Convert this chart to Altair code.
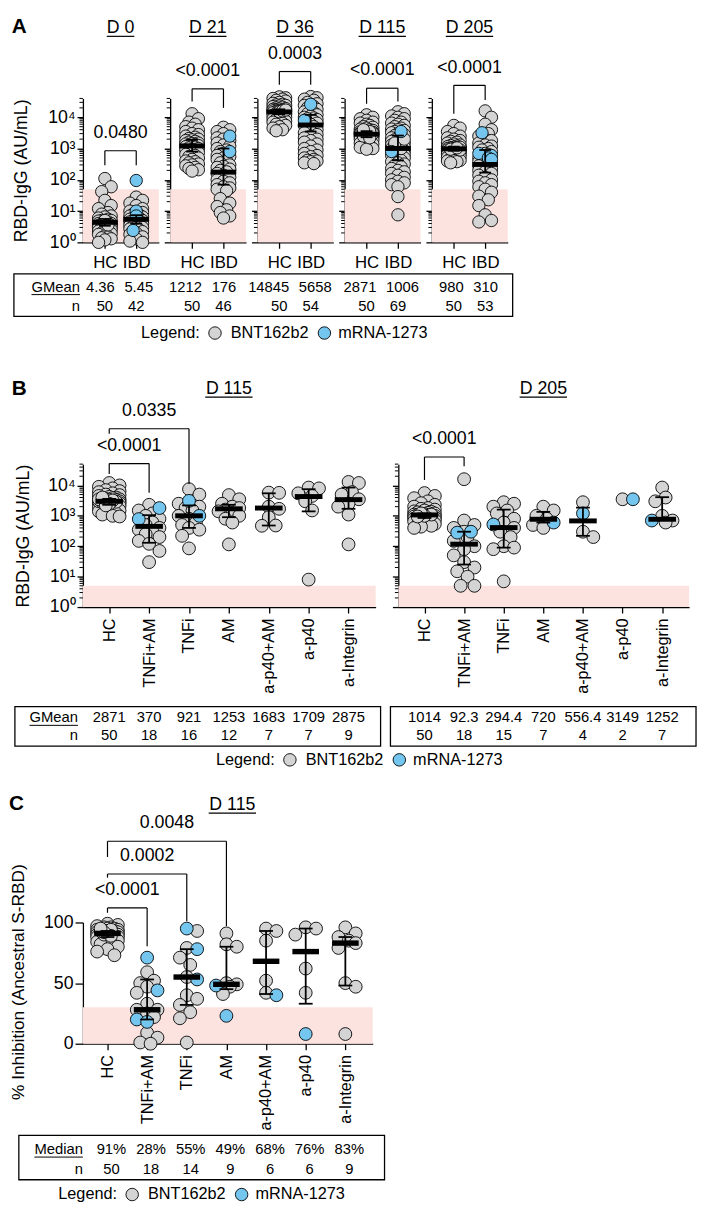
import json
import math
import altair as alt
import pandas as pd

FONT = "Liberation Sans"
GRAY = "#d4d4d4"
BLUE = "#74c6ef"
PINK = "#fce3df"
INK = "#000000"

# ---------------- Panel A: RBD-IgG by visit ----------------
A_TITLES = ["D 0", "D 21", "D 36", "D 115", "D 205"]
A_CATS = ["HC", "IBD"]
A_D0_HC = [110, 60, 42, 22, 15, 12, 9, 8, 7, 6.5, 6, 5.5, 5, 5, 4.8, 4.5, 4.2, 4, 4, 4, 3.8, 3.6, 3.5, 3.5,
           3.4, 3.3, 3.2, 3, 3, 3, 2.8, 2.6, 2.5, 2.5, 2.3, 2.2, 2, 2, 1.9, 1.8, 1.6, 1.5, 1.4, 1.3, 1.2, 1.0,
           4, 4.5, 5, 3.6]
A_D0_IBD = [28, 22, 18, 15, 12, 10, 9, 8, 7.5, 7, 6.5, 6, 6, 5.5, 5.5, 5, 5, 5, 4.8, 4.5, 4.5, 4.2, 4, 4,
            3.8, 3.5, 3.3, 3, 3, 2.7, 2.5, 2.2, 2, 1.8, 1.5, 1.3, 1.1, 1.0]
A_D0_IBD_M = [95, 10, 7, 2.4]
A_D21_HC = [13000, 9000, 7000, 6000, 5000, 4500, 4000, 3500, 3000, 2800, 2500, 2300, 2100, 2000, 1900, 1800,
            1700, 1600, 1500, 1450, 1400, 1350, 1300, 1250, 1200, 1150, 1100, 1050, 1000, 950, 900, 850, 800,
            750, 700, 650, 600, 550, 500, 450, 400, 380, 350, 320, 300, 280, 250, 230, 210, 190]
A_D21_IBD = [4800, 4000, 3500, 3000, 2200, 2000, 1800, 1500, 1300, 1200, 1000, 900, 800, 700, 600, 550, 500,
             450, 400, 350, 300, 270, 250, 220, 200, 180, 160, 140, 120, 100, 90, 80, 70, 60, 55, 50, 45, 25,
             18, 14, 11, 9, 7, 6]
A_D21_IBD_M = [2500, 800]
A_D36_HC = [45000, 42000, 40000, 38000, 35000, 33000, 30000, 28000, 26000, 25000, 24000, 23000, 22000, 21000,
            20000, 19000, 18500, 18000, 17500, 17000, 16500, 16000, 15500, 15000, 14500, 14000, 13500, 13000,
            12500, 12000, 11500, 11000, 10500, 10000, 9500, 9000, 8500, 8000, 7500, 7000, 6500, 6000, 5500,
            5000, 4500, 4000, 3700, 15000, 16000, 17000]
A_D36_IBD = [46000, 42000, 38000, 35000, 30000, 27000, 24000, 22000, 20000, 18000, 16000, 15000, 14000, 13000,
             12000, 11000, 10000, 9500, 9000, 8500, 8000, 7500, 7000, 6500, 6000, 5500, 5000, 4500, 4000, 3600,
             3200, 2800, 2500, 2200, 2000, 1800, 1600, 1400, 1200, 1000, 900, 800, 700, 600, 550, 500, 450, 420,
             400, 380, 350, 330]
A_D36_IBD_M = [26000, 8000]
A_D115_HC = [12000, 10000, 9000, 8000, 7000, 6500, 6000, 5500, 5000, 4800, 4500, 4200, 4000, 3800, 3600, 3500,
             3400, 3300, 3200, 3100, 3000, 2900, 2800, 2700, 2600, 2500, 2400, 2300, 2200, 2100, 2000, 1900,
             1800, 1700, 1600, 1500, 1400, 1300, 1200, 1100, 1000, 950, 3000, 2900, 2800, 3200, 3500, 2500,
             2200, 4000]
A_D115_IBD = [15000, 13000, 11000, 10000, 9000, 8000, 7000, 6500, 6000, 5500, 5000, 4500, 4200, 4000, 3800,
              3500, 3200, 3000, 2800, 2600, 2400, 2200, 2000, 1900, 1800, 1700, 1600, 1500, 1400, 1300, 1200,
              1100, 1000, 950, 900, 850, 800, 750, 700, 650, 600, 550, 500, 460, 420, 380, 350, 320, 290, 260,
              230, 200, 180, 160, 140, 120, 100, 90, 80, 70, 60, 29, 7.6, 1000, 1200, 1500, 2000]
A_D115_IBD_M = [3500, 800]
A_D205_HC = [5500, 4500, 3500, 3000, 2500, 2200, 2000, 1800, 1700, 1600, 1500, 1400, 1300, 1250, 1200, 1150,
             1100, 1050, 1000, 980, 950, 920, 900, 880, 850, 820, 800, 780, 750, 720, 700, 680, 650, 620, 600,
             580, 550, 520, 500, 480, 450, 420, 400, 380, 350, 1000, 1100, 900, 950, 1050]
A_D205_IBD = [16000, 10000, 6000, 4000, 3000, 2500, 2000, 1800, 1500, 1300, 1200, 1100, 1000, 900, 800, 700,
              650, 600, 550, 500, 450, 400, 380, 350, 320, 300, 280, 250, 220, 200, 180, 160, 140, 120, 100,
              90, 80, 70, 60, 50, 40, 30, 23, 15, 7.6, 5, 4.5, 400]
A_D205_IBD_M = [3200, 700, 600, 500, 450]
A_GMEAN_TXT = [["4.36", "5.45"], ["1212", "176"], ["14845", "5658"], ["2871", "1006"], ["980", "310"]]
A_GMEAN = [[4.36, 5.45], [1212, 176], [14845, 5658], [2871, 1006], [980, 310]]
A_N = [[50, 42], [50, 46], [50, 54], [50, 69], [50, 53]]
A_CI_LO = [[3.4, 4.0], [800, 70], [12500, 3500], [2300, 420], [850, 170]]
A_CI_HI = [[5.6, 7.4], [1900, 1000], [18000, 12000], [3600, 2600], [1150, 900]]
A_P = ["0.0480", "<0.0001", "0.0003", "<0.0001", "<0.0001"]
A_BR_TOP = [850, 81000, 290000, 85000, 105000]
A_BR_LEG1 = [290, 32000, 110000, 27000, 13000]
A_BR_LEG2 = [290, 20000, 110000, 32000, 36000]

# ---------------- Panel B: RBD-IgG by therapy ----------------
B_CATS = ["HC", "TNFi+AM", "TNFi", "AM", "a-p40+AM", "a-p40", "a-Integrin"]
B115_TNFIAM = [2300, 1500, 1200, 1000, 800, 600, 500, 400, 350, 300, 250, 200, 150, 120, 70, 30]
B115_TNFIAM_M = [1800, 780]
B115_TNFI = [7500, 5000, 2500, 2000, 1800, 1500, 1000, 800, 600, 500, 400, 350, 220, 85]
B115_TNFI_M = [3100, 1000]
B115_AM = [4800, 3500, 2500, 2000, 1800, 1600, 1400, 1200, 1000, 800, 600, 115]
B115_P40AM = [5800, 5700, 2000, 1700, 900, 480, 470]
B115_P40 = [8500, 8000, 5500, 4500, 3000, 1500, 8]
B115_INT = [13000, 12000, 6000, 5000, 3500, 2500, 2000, 1100, 115]
B115_GMEAN_TXT = ["2871", "370", "921", "1253", "1683", "1709", "2875"]
B115_BAR = [3000, 450, 1000, 1700, 1800, 4300, 3400]
B115_N = [50, 18, 16, 12, 7, 7, 9]
B115_CI_LO = [2300, 130, 400, 900, 480, 1400, 1700]
B115_CI_HI = [3600, 1050, 2200, 2300, 5500, 7500, 8500]
B205_HC = [5600, 4500, 3800, 3000, 2600, 2300, 2000, 1800, 1700, 1600, 1500, 1400, 1350, 1300, 1250, 1200,
           1150, 1100, 1080, 1050, 1020, 1000, 980, 950, 930, 900, 880, 860, 840, 820, 800, 780, 760, 740, 720,
           700, 680, 650, 620, 600, 570, 540, 500, 470, 440, 400, 1100, 1000, 1200, 950]
B205_TNFIAM = [16000, 700, 500, 400, 300, 200, 150, 100, 80, 50, 30, 20, 15, 10, 5, 5]
B205_TNFIAM_M = [300, 280]
B205_TNFI = [2800, 2500, 2000, 1500, 1200, 800, 600, 400, 300, 200, 100, 90, 80, 7]
B205_TNFI_M = [520]
B205_AM = [2000, 1500, 1000, 800, 500, 400]
B205_AM_M = [600]
B205_P40AM = [2800, 300, 200]
B205_P40AM_M = [1200]
B205_P40 = [3500]
B205_P40_M = [3500]
B205_INT = [8500, 4000, 3000, 1000, 700, 600]
B205_INT_M = [700]
B205_GMEAN_TXT = ["1014", "92.3", "294.4", "720", "556.4", "3149", "1252"]
B205_BAR = [1070, 117, 410, 770, 680, None, 770]
B205_N = [50, 18, 15, 7, 4, 2, 7]
B205_CI_LO = [850, 25, 90, 600, 220, None, 770]
B205_CI_HI = [1200, 300, 1600, 1350, 1860, None, 4100]

# ---------------- Panel C: % inhibition ----------------
C_HC = [99, 98, 97, 96, 96, 95, 95, 94, 94, 93, 93, 93, 92, 92, 92, 91, 91, 91, 91, 90, 90, 90, 90, 89, 89,
        89, 88, 88, 88, 87, 87, 86, 86, 85, 85, 84, 83, 82, 80, 78, 76, 73, 92, 91, 90, 93, 94, 89, 92, 95]
C_TNFIAM = [59, 52, 50, 47, 42, 33, 28, 28, 25, 22, 9, 5, 1, 0]
C_TNFIAM_M = [71, 44, 20, 18]
C_TNFI = [93, 79, 71, 65, 55, 40, 37, 32, 26, 21, 1]
C_TNFI_M = [95, 78, 53]
C_AM = [91, 82, 80, 50, 49, 47, 41]
C_AM_M = [48, 23]
C_P40AM = [95, 93, 85, 52, 42]
C_P40AM_M = [40]
C_P40 = [96, 95, 90, 62, 42]
C_P40_M = [8]
C_INT = [96, 91, 88, 85, 83, 79, 50, 47, 8]
C_MED_TXT = ["91%", "28%", "55%", "49%", "68%", "76%", "83%"]
C_MED = [91, 28, 55, 49, 68, 76, 83]
C_N = [50, 18, 14, 9, 6, 6, 9]
C_Q1 = [88, 20, 32, 45, 41, 33, 48]
C_Q3 = [93, 53, 78, 80, 93, 95, 88]

B_P_L = ["<0.0001", "0.0335"]
B_BR_L = [(0, 1, 52000, 23600, 5700), (0, 2, 730000, 500000, 11200)]
B_P_R = ["<0.0001"]
B_BR_R = [(0, 1, 86000, 15100, 43000)]
C_P = ["<0.0001", "0.0002", "0.0048"]
C_BR = [(0, 1, 112, 108, 80.5), (0, 2, 140, 137, 101), (0, 3, 167, 154, 97)]

# ---------------- helpers ----------------
AW = {"D": .722, " ": .278, "G": .778, "M": .833, "e": .556, "a": .556, "n": .556, "d": .556, "i": .222}


def tw(s, fs):
    return sum(AW.get(c, .556) for c in s) * fs


def swarm(ypx, d, maxoff, step, tight):
    n = len(ypx)
    order = sorted(range(n), key=lambda i: ypx[i])
    cands = [0.0]
    k = 1
    while k * step <= maxoff + 1e-6:
        cands += [k * step, -k * step]
        k += 1
    placed, offs = [], [0.0] * n
    for i in order:
        y = ypx[i]
        chosen, best_c, best_d = None, 0.0, -1.0
        for c in cands:
            md = min((math.hypot(c - px, y - py) for px, py in placed), default=1e9)
            if md >= tight * d:
                chosen = c
                break
            if md > best_d:
                best_d, best_c = md, c
        offs[i] = best_c if chosen is None else chosen
        placed.append((offs[i], y))
    return offs


SUP = "['\u2070','\u00b9','\u00b2','\u00b3','\u2074','\u2075']"
LOG_LABELS = "'10' + " + SUP + "[round(log(datum.value)/LN10)]"


def minor_ticks(top):
    out = []
    dec = 1
    while dec < top:
        for m in range(2, 10):
            if dec * m <= top * 1.0001:
                out.append(dec * m)
        dec *= 10
    return out


def panel(w, h, xdom, ys, yfun, cats, groups, centers, lo, hi, band, yaxis, minor, brackets,
          pvals, title, title_y, bar_hw, bar_th, cap_hw, d, maxoff, step, tight, xlab_angle, xlab_size,
          xlab_pad, table_rows, extras):
    xs = alt.Scale(domain=xdom, nice=False, zero=False)
    ppu = w / (xdom[1] - xdom[0])
    xaxis = alt.Axis(values=list(range(len(cats))), labelExpr=json.dumps(cats) + "[datum.value]",
                     title=None, tickSize=6, tickWidth=1.3, domainWidth=1.3, labelAngle=xlab_angle,
                     labelFontSize=xlab_size, labelPadding=xlab_pad, grid=False)

    def X(f):
        return alt.X(f, scale=xs, axis=xaxis)

    def Y(f):
        return alt.Y(f, scale=ys, axis=yaxis)

    L = []
    L.append(alt.Chart(pd.DataFrame({"lo": [band[0]], "hi": [band[1]]})).mark_rect(color=PINK).encode(
        x=alt.value(0), x2=alt.value(w), y=Y("hi:Q"), y2="lo:Q"))
    if minor:
        L.append(alt.Chart(pd.DataFrame({"t": minor})).mark_rule(color=INK, strokeWidth=1).encode(
            x=alt.value(-3.5), x2=alt.value(0), y=Y("t:Q")))
    rows = []
    for i, (g, b) in enumerate(groups):
        vals = [(v, "g") for v in g] + [(v, "b") for v in b]
        offs = swarm([yfun(v) for v, _ in vals], d, maxoff, step, tight)
        for (v, k), o in zip(vals, offs):
            rows.append({"x": i + o / ppu, "v": v, "k": k})
    pts = pd.DataFrame(rows)
    for kind, col in (("g", GRAY), ("b", BLUE)):
        sub = pts[pts.k == kind]
        if len(sub) == 0:
            continue
        L.append(alt.Chart(sub).mark_point(shape="circle", filled=True, size=d * d, fill=col, stroke=INK,
                                           strokeWidth=0.9, opacity=1).encode(x=X("x:Q"), y=Y("v:Q")))
    srows = []
    for i, (c, a, z) in enumerate(zip(centers, lo, hi)):
        if c is None:
            continue
        srows.append({"i": i, "c": c, "lo": a, "hi": z, "ml": i - bar_hw / ppu, "mr": i + bar_hw / ppu,
                      "cl": i - cap_hw / ppu, "cr": i + cap_hw / ppu})
    sm = alt.Chart(pd.DataFrame(srows))
    L.append(sm.mark_rule(color=INK, strokeWidth=1.8).encode(x=X("i:Q"), y=Y("lo:Q"), y2="hi:Q"))
    for f in ("lo", "hi"):
        L.append(sm.mark_rule(color=INK, strokeWidth=1.8).encode(x=X("cl:Q"), x2="cr:Q", y=Y(f + ":Q")))
    L.append(sm.mark_rule(color=INK, strokeWidth=bar_th).encode(x=X("ml:Q"), x2="mr:Q", y=Y("c:Q")))
    if brackets:
        br = pd.DataFrame([{"x1": a, "x2": b, "top": t, "l1": l1, "l2": l2, "xm": (a + b) / 2, "p": p}
                           for (a, b, t, l1, l2), p in zip(brackets, pvals)])
        bc = alt.Chart(br)
        L.append(bc.mark_rule(color=INK, strokeWidth=1.2).encode(x=X("x1:Q"), x2="x2:Q", y=Y("top:Q")))
        L.append(bc.mark_rule(color=INK, strokeWidth=1.2).encode(x=X("x1:Q"), y=Y("top:Q"), y2="l1:Q"))
        L.append(bc.mark_rule(color=INK, strokeWidth=1.2).encode(x=X("x2:Q"), y=Y("top:Q"), y2="l2:Q"))
        L.append(bc.mark_text(fontSize=18, baseline="middle", dy=-18).encode(
            x=X("xm:Q"), y=Y("top:Q"), text="p:N"))
    if title:
        tx, ttext = title
        uw = tw(ttext, 18) / 2
        tdf = pd.DataFrame({"tx": [tx], "t": [ttext], "ul": [tx - uw / ppu], "ur": [tx + uw / ppu]})
        tc = alt.Chart(tdf)
        L.append(tc.mark_text(fontSize=18, baseline="alphabetic").encode(
            x=X("tx:Q"), y=alt.value(title_y), text="t:N"))
        L.append(tc.mark_rule(color=INK, strokeWidth=1.2).encode(
            x=X("ul:Q"), x2="ur:Q", y=alt.value(title_y + 3)))
    for (texts, ty, fs, aligns) in table_rows:
        tdf = pd.DataFrame({"i": list(range(len(texts))), "t": texts})
        for i, (al, dx) in enumerate(aligns):
            L.append(alt.Chart(tdf[tdf.i == i]).mark_text(fontSize=fs, baseline="middle", align=al, dx=dx).encode(
                x=X("i:Q"), y=alt.value(ty), text="t:N"))
    L.extend(extras)
    return alt.layer(*L).properties(width=w, height=h)


ONE = pd.DataFrame({"a": [0]})


def txt(s, x, y, fs, align="left", weight="normal"):
    return alt.Chart(ONE).mark_text(text=s, fontSize=fs, align=align, baseline="middle",
                                    fontWeight=weight).encode(x=alt.value(x), y=alt.value(y))


def dot(x, y, col):
    return alt.Chart(ONE).mark_point(shape="circle", filled=True, size=160, fill=col, stroke=INK,
                                     strokeWidth=0.9, opacity=1).encode(x=alt.value(x), y=alt.value(y))


def hline(x1, x2, y, sw=1.2):
    return alt.Chart(ONE).mark_rule(color=INK, strokeWidth=sw).encode(
        x=alt.value(x1), x2=alt.value(x2), y=alt.value(y))


def box(x1, x2, y1, y2):
    return alt.Chart(ONE).mark_rect(filled=False, color=INK, strokeWidth=1.3).encode(
        x=alt.value(x1), x2=alt.value(x2), y=alt.value(y1), y2=alt.value(y2))


def marker(x, y1, y2):
    return alt.Chart(ONE).mark_rule(color="white", strokeOpacity=0, strokeWidth=1).encode(
        x=alt.value(x), y=alt.value(y1), y2=alt.value(y2))


def legend(x0, y):
    return [txt("Legend:", x0, y, 16.5), dot(x0 + 75, y, GRAY), txt("BNT162b2", x0 + 91, y, 16.5),
            dot(x0 + 186, y, BLUE), txt("mRNA-1273", x0 + 200, y, 16.5)]


def row_label(label, right, y, fs=15):
    return [txt(label, right, y, fs, align="right"), hline(right - tw(label, fs), right, y + 8, 1)]


def log_axis(first, h, tx):
    return alt.Axis(values=[1, 10, 100, 1000, 10000], labelExpr=LOG_LABELS, labels=first, tickSize=6,
                    tickWidth=1.3, domainWidth=1.3, labelFontSize=18, labelPadding=2, grid=False,
                    title="RBD-IgG (AU/mL)" if first else None, titleFontSize=18, titleFontWeight="normal",
                    titleAngle=-90, titleX=tx, titleY=h / 2, titleAlign="center", titleBaseline="middle")


# ---------------- build panel A ----------------
A_W, A_H, A_TOP = 77, 146, 4e4
A_XDOM = [-0.7, 1.72]
A_YS = alt.Scale(type="log", domain=[1, A_TOP], nice=False)


def a_y(v):
    return A_H - A_H * math.log10(v) / math.log10(A_TOP)


A_GROUPS = [
    [(A_D0_HC, []), (A_D0_IBD, A_D0_IBD_M)],
    [(A_D21_HC, []), (A_D21_IBD, A_D21_IBD_M)],
    [(A_D36_HC, []), (A_D36_IBD, A_D36_IBD_M)],
    [(A_D115_HC, []), (A_D115_IBD, A_D115_IBD_M)],
    [(A_D205_HC, []), (A_D205_IBD, A_D205_IBD_M)],
]
a_panels = []
for j in range(5):
    first = j == 0
    extras = []
    if first:
        extras += [txt("A", -64.5, -72, 21, "center", "bold"), box(-70, 436, 178, 221)]
        extras += row_label("GMean", -3, 191) + [txt("n", -3, 211, 15, "right")]
        extras += legend(59, 238)
        extras += [marker(-70, -82, 268)]
    a_panels.append(panel(
        A_W, A_H, A_XDOM, A_YS, a_y, A_CATS, A_GROUPS[j], A_GMEAN[j], A_CI_LO[j], A_CI_HI[j], (1, 50),
        log_axis(first, A_H, -62), minor_ticks(A_TOP), [(0, 1, A_BR_TOP[j], A_BR_LEG1[j], A_BR_LEG2[j])],
        [A_P[j]], (0.5, A_TITLES[j]), -66, 13, 5, 6, 12.5, 9.5, 3.2, 0.72, 0, 17, 7,
        [(A_GMEAN_TXT[j], 191, 15, [("right", 10), ("left", -12)]),
         ([str(v) for v in A_N[j]], 211, 15, [("center", 0), ("center", 0)])],
        extras))
row_a = alt.hconcat(*a_panels, spacing=11.5, bounds="flush")

# ---------------- build panel B ----------------
B_H, B_TOP = 145, 5e4
B_XDOM = [-0.66, 6.68]
B_YS = alt.Scale(type="log", domain=[1, B_TOP], nice=False)


def b_y(v):
    return B_H - B_H * math.log10(v) / math.log10(B_TOP)


B115_GROUPS = [(A_D115_HC, []), (B115_TNFIAM, B115_TNFIAM_M), (B115_TNFI, B115_TNFI_M), (B115_AM, []),
               (B115_P40AM, []), (B115_P40, []), (B115_INT, [])]
B205_GROUPS = [(B205_HC, []), (B205_TNFIAM, B205_TNFIAM_M), (B205_TNFI, B205_TNFI_M), (B205_AM, B205_AM_M),
               (B205_P40AM, B205_P40AM_M), (B205_P40, B205_P40_M), (B205_INT, B205_INT_M)]
ctr7 = [("center", 0)] * 7
b_panels = []
for j, (w, groups, cen, lo, hi, gtxt, ns, brs, ps, ttl) in enumerate([
        (297, B115_GROUPS, B115_BAR, B115_CI_LO, B115_CI_HI, B115_GMEAN_TXT, B115_N, B_BR_L, B_P_L, "D 115"),
        (295, B205_GROUPS, B205_BAR, B205_CI_LO, B205_CI_HI, B205_GMEAN_TXT, B205_N, B_BR_R, B_P_R, "D 205")]):
    first = j == 0
    if first:
        extras = [txt("B", -64.5, -76, 21, "center", "bold"), box(-69, 302, 246, 286)]
        extras += row_label("GMean", -5, 257) + [txt("n", -5, 275, 15, "right")]
        extras += legend(135, 300) + [marker(-70, -103, 312)]
    else:
        extras = [box(-8, 302, 246, 286)]
    b_panels.append(panel(
        w, B_H, B_XDOM, B_YS, b_y, B_CATS, groups, cen, lo, hi, (1, 5), log_axis(first, B_H, -60),
        minor_ticks(B_TOP), brs, ps, (3, ttl), -71, 14, 5, 7, 13, 11, 3.5, 0.8, -90, 16.5, 5,
        [(gtxt, 257, 15, ctr7), ([str(v) for v in ns], 275, 15, ctr7)], extras))
row_b = alt.hconcat(*b_panels, spacing=23, bounds="flush")

# ---------------- build panel C ----------------
C_W, C_H = 294, 123
C_XDOM = [-0.62, 6.69]
C_YS = alt.Scale(domain=[0, 100], nice=False, zero=False)


def c_y(v):
    return C_H - C_H * v / 100


C_GROUPS = [(C_HC, []), (C_TNFIAM, C_TNFIAM_M), (C_TNFI, C_TNFI_M), (C_AM, C_AM_M), (C_P40AM, C_P40AM_M),
            (C_P40, C_P40_M), (C_INT, [])]
c_yaxis = alt.Axis(values=[0, 50, 100], tickSize=8, tickWidth=1.3, domainWidth=1.3, labelFontSize=18,
                   labelPadding=2, grid=False, title="% Inhibition (Ancestral S-RBD)", titleFontSize=17.5,
                   titleFontWeight="normal", titleAngle=-90, titleX=-65, titleY=60, titleAlign="center",
                   titleBaseline="middle")
c_extras = [txt("C", -67.5, -120.5, 21, "center", "bold"), box(-65, 306, 216, 261)]
c_extras += row_label("Median", 0, 230) + [txt("n", 0, 250, 15, "right")]
c_extras += legend(-25, 276) + [marker(-73, -153, 288)]
c4 = [("center", 4)] * 7
panel_c = panel(C_W, C_H, C_XDOM, C_YS, c_y, B_CATS, C_GROUPS, C_MED, C_Q1, C_Q3, (0, 30), c_yaxis, None,
                C_BR, C_P, (3.15, "D 115"), -114, 13.5, 5.5, 7, 13, 12, 3.5, 0.85, -90, 16.5, 5,
                [(C_MED_TXT, 230, 15, c4), ([str(v) for v in C_N], 250, 15, c4)], c_extras)
row_c = alt.hconcat(panel_c, bounds="flush")

chart = alt.vconcat(row_a, row_b, row_c, spacing=0).properties(padding=0, background="white")
chart = chart.configure_view(stroke=None).configure_axis(
    domainColor=INK, tickColor=INK, labelColor=INK, titleColor=INK, labelFont=FONT, titleFont=FONT,
    grid=False).configure_text(font=FONT, color=INK)

chart.save("out.html", embed_options={"renderer": "svg", "actions": False})
